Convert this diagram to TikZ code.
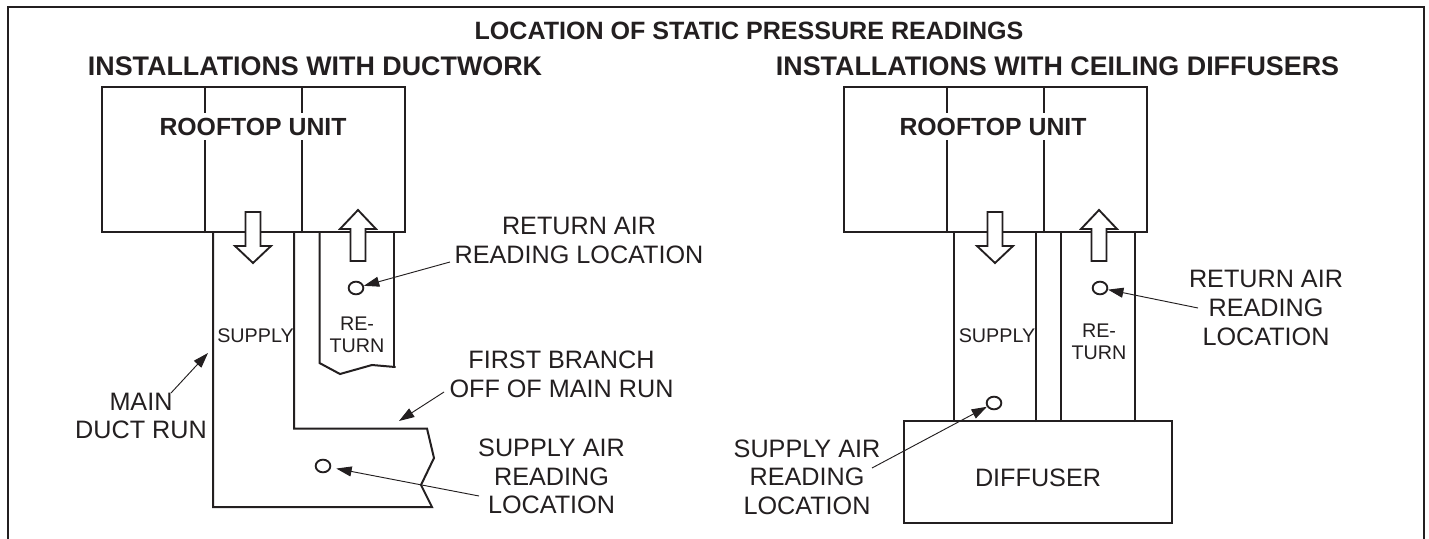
\documentclass[tikz,border=0pt]{standalone}
\usepackage{fontspec}
\setmainfont{Liberation Sans}
\usetikzlibrary{arrows.meta,shapes.geometric}
\definecolor{ink}{HTML}{231F20}
\tikzset{
 x=0.75pt,y=-0.75pt,
 frameline/.style={draw=ink,line width=1.9pt},
 duct/.style={draw=ink,line width=1.5pt,line cap=round,line join=miter},
 flow/.style={draw=ink,line width=1.4pt,fill=white,line join=miter},
 leader/.style={draw=ink,line width=0.7pt,-{Triangle[length=11.5pt,width=7.5pt]}},
 port/.style={draw=ink,line width=1.4pt,fill=white,ellipse,inner sep=0pt,minimum width=11pt,minimum height=9.5pt},
 head/.style={font=\fontsize{20.15pt}{24pt}\selectfont\bfseries,text=ink,inner sep=0pt},
 titlehead/.style={font=\fontsize{18.8pt}{24pt}\selectfont\bfseries,text=ink,inner sep=0pt},
 unit/.style={font=\fontsize{18.6pt}{24pt}\selectfont\bfseries,text=ink,fill=white,inner xsep=0pt,inner ysep=3.2pt},
 lab/.style={font=\fontsize{18.9pt}{21.5pt}\selectfont,text=ink,align=center,inner sep=0pt},
 small/.style={font=\fontsize{14.8pt}{16.5pt}\selectfont,text=ink,align=center,inner sep=0pt},
}
\newcommand{\downflow}[1]{\path[flow] (#1-7.5,212) -- (#1+7.5,212) -- (#1+7.5,246) -- (#1+18,246) -- (#1,263) -- (#1-18,246) -- (#1-7.5,246) -- cycle;}
\newcommand{\upflow}[1]{\path[flow] (#1-7.5,261) -- (#1+7.5,261) -- (#1+7.5,229) -- (#1+18,229) -- (#1,210) -- (#1-18,229) -- (#1-7.5,229) -- cycle;}
\begin{document}
\begin{tikzpicture}
\useasboundingbox (0,0) rectangle (1429,539);
\fill[white] (0,0) rectangle (1429,539);
\draw[frameline] (8,539) -- (8,7) -- (1424,7) -- (1424,539);
% titles
\node[titlehead] (title) at (749,31) {LOCATION OF STATIC PRESSURE READINGS};
\node[head] (headL) at (315,66) {INSTALLATIONS WITH DUCTWORK};
\node[head] (headR) at (1057.5,66) {INSTALLATIONS WITH CEILING DIFFUSERS};
% left unit
\draw[duct] (102,87) rectangle (405,232);
\draw[duct] (205,87) -- (205,232);
\draw[duct] (302,87) -- (302,232);
\node[unit] (unitL) at (253,126.5) {ROOFTOP UNIT};
% left supply duct
\draw[duct] (213,232) -- (213,507) -- (432,507) -- (421,485) -- (434,458) -- (427,428.5) -- (294,428.5) -- (294,232);
% left return duct
\draw[duct] (319.5,232) -- (319.5,363) -- (340,374) -- (372,365) -- (395,367);
\draw[duct] (393.5,232) -- (393.5,367);
\downflow{253}
\upflow{358}
\node[small] (supL) at (255.5,336) {SUPPLY};
\node[small] (retL) at (357,335) {RE-\\TURN};
\node[port] (pRL) at (356,288) {};
\node[port] (pSL) at (323,466) {};
\node[lab] (tRL) at (579,240.5) {RETURN AIR\\READING LOCATION};
\node[lab] (tFB) at (561.5,374.5) {FIRST BRANCH\\OFF OF MAIN RUN};
\node[lab] (tSL) at (551.5,476.5) {SUPPLY AIR\\READING\\LOCATION};
\node[lab] (tMD) at (141,416) {MAIN\\DUCT RUN};
\coordinate (aRL) at (450,262);
\coordinate (aFB) at (444,392);
\coordinate (tipFB) at (399,421);
\coordinate (aSL) at (479,496);
\coordinate (aMD) at (171,393);
\coordinate (tipMD) at (208,353);
\draw[leader] (aRL) -- (pRL);
\draw[leader] (aFB) -- (tipFB);
\draw[leader,shorten >=4pt] (aSL) -- (pSL);
\draw[leader] (aMD) -- (tipMD);
% right unit
\draw[duct] (844,87) rectangle (1147,232);
\draw[duct] (947,87) -- (947,232);
\draw[duct] (1044,87) -- (1044,232);
\node[unit] (unitR) at (993,126.5) {ROOFTOP UNIT};
\draw[duct] (954,232) -- (954,421);
\draw[duct] (1035.5,232) -- (1035.5,421);
\draw[duct] (1061,232) -- (1061,421);
\draw[duct] (1135,232) -- (1135,421);
\draw[duct] (904,421) rectangle (1172,523);
\downflow{995}
\upflow{1099}
\node[small] (supR) at (997,336) {SUPPLY};
\node[small] (retR) at (1099,342) {RE-\\TURN};
\node[port] (pRR) at (1100,288) {};
\node[port] (pSR) at (994,403) {};
\node[lab] (tRR) at (1266,308) {RETURN AIR\\READING\\LOCATION};
\node[lab] (tSR) at (807,477) {SUPPLY AIR\\READING\\LOCATION};
\node[lab] (tD) at (1038,478) {DIFFUSER};
\coordinate (aRR) at (1198,308);
\coordinate (aSR) at (872,468);
\draw[leader] (aRR) -- (pRR);
\draw[leader] (aSR) -- (pSR);
\end{tikzpicture}
\end{document}
